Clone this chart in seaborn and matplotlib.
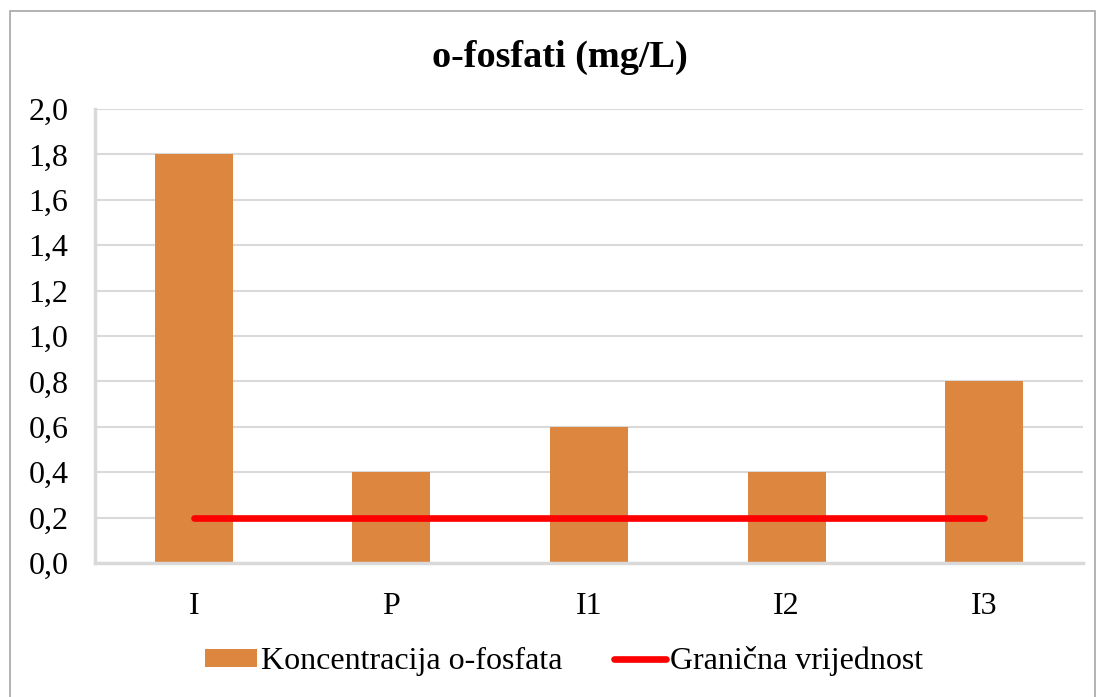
import numpy as np
import pandas as pd
import seaborn as sns
import matplotlib.pyplot as plt
from matplotlib.patches import Rectangle, Patch
from matplotlib.lines import Line2D
from matplotlib.ticker import FuncFormatter

# data
sites = ['I', 'P', 'I1', 'I2', 'I3']
concentration = [1.8, 0.4, 0.6, 0.4, 0.8]
limit_value = [0.2, 0.2, 0.2, 0.2, 0.2]

df = pd.DataFrame({'site': sites, 'conc': concentration, 'limit': limit_value})

sns.set_style('white')
plt.rcParams['font.family'] = ['Liberation Serif', 'DejaVu Serif']
plt.rcParams['text.color'] = 'black'
plt.rcParams['xtick.labelcolor'] = 'black'
plt.rcParams['ytick.labelcolor'] = 'black'

bar_color = '#DD8640'
grey = '#D9D9D9'

fig = plt.figure(figsize=(10.99, 6.97), dpi=100)
ax = fig.add_axes([95 / 1099, 1 - 563 / 697, (1083 - 95) / 1099, (563 - 109) / 697])

sns.barplot(data=df, x='site', y='conc', color=bar_color, width=0.395,
            saturation=1, linewidth=0, edgecolor='none', ax=ax, zorder=2)
sns.lineplot(x=np.arange(len(sites)), y=df['limit'], color='#FF0000', lw=4.8,
             solid_capstyle='round', ax=ax, zorder=3)

ax.set_xlim(-0.5, len(sites) - 0.5)
ax.set_ylim(0, 2.0)
ax.set_yticks(np.arange(0, 2.01, 0.2))
ax.yaxis.set_major_formatter(FuncFormatter(lambda v, p: f'{v:.1f}'.replace('.', ',')))
ax.grid(axis='y', color=grey, lw=1.5, zorder=0)
ax.set_axisbelow(True)
ax.set_xlabel('')
ax.set_ylabel('')

for s in ['top', 'right']:
    ax.spines[s].set_visible(False)
for s in ['left', 'bottom']:
    ax.spines[s].set_color(grey)
    ax.spines[s].set_linewidth(2.5)

ax.set_xticks(np.arange(-0.5, len(sites), 1), minor=True)
ax.tick_params(axis='x', which='major', length=0, pad=21, labelsize=23, labelcolor='black')
ax.tick_params(axis='x', which='minor', length=7, width=2.5, color=grey, direction='out')
ax.tick_params(axis='y', length=7, width=2.5, color=grey, direction='out', pad=12,
               labelsize=23, labelcolor='black')

fig.text(560 / 1099, 1 - 57 / 697, 'o-fosfati (mg/L)', ha='center', va='center',
         fontsize=27.5, fontweight='bold', color='black')

handles = [Patch(facecolor=bar_color, edgecolor='none'),
           Line2D([0], [0], color='#FF0000', lw=4.8, solid_capstyle='round')]
fig.legend(handles, ['Koncentracija o-fosfata', 'Granična vrijednost'],
           loc='center', bbox_to_anchor=(564 / 1099, 1 - 661 / 697), ncol=2, frameon=False,
           fontsize=23, handlelength=1.63, handleheight=0.5, handletextpad=0.13,
           columnspacing=1.6, labelcolor='black')

fig.patches.append(Rectangle((10 / 1099, -10 / 697), 1085 / 1099, 696 / 697,
                             transform=fig.transFigure, fill=False,
                             edgecolor='#A6A6A6', lw=1.2))

fig.savefig('out.png', dpi=100)
